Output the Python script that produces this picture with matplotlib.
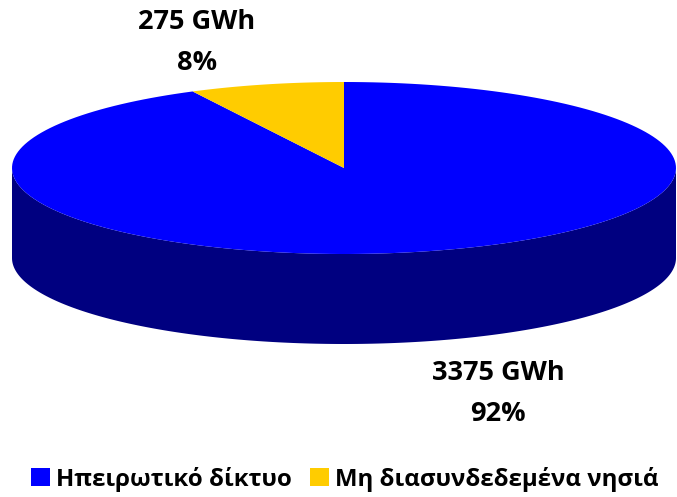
import numpy as np
import matplotlib.pyplot as plt
from matplotlib.patches import Polygon, Patch

plt.rcParams['font.family'] = ['Open Sans', 'DejaVu Sans']

names = ['Ηπειρωτικό δίκτυο', 'Μη διασυνδεδεμένα νησιά']
values = [3375, 275]
colors = ['#0000FF', '#FFCC00']
side_colors = ['#000080', '#806600']
label_pos = [(498, 373), (197, 22)]  # pixel position of the first text line

W, H = 677, 497
fig = plt.figure(figsize=(W / 100, H / 100), dpi=100)
ax = fig.add_axes([0, 0, 1, 1])
ax.set_xlim(0, W)
ax.set_ylim(H, 0)
ax.axis('off')

# ellipse geometry of the 3d pie (pixels)
cx, cy, rx, ry, depth = 344, 168, 332, 86, 90


def arc(t0, t1, dy=0, n=200):
    t = np.radians(np.linspace(t0, t1, n))
    return np.column_stack([cx + rx * np.cos(t), cy - ry * np.sin(t) + dy])


fractions = np.array(values) / sum(values)
start = 90.0
wedges = []
for frac in fractions:
    end = start - 360 * frac  # clockwise
    wedges.append((end, start))
    start = end

# side walls (only the front half is visible)
for (lo, hi), sc in zip(wedges, side_colors):
    for k in range(-2, 2):
        a = max(lo, 180 + 360 * k)
        b = min(hi, 360 + 360 * k)
        if b > a:
            top = arc(a, b)
            bot = arc(b, a, dy=depth)
            ax.add_patch(Polygon(np.vstack([top, bot]), closed=True,
                                 facecolor=sc, edgecolor='none'))

# top faces
for (lo, hi), c in zip(wedges, colors):
    pts = np.vstack([[cx, cy], arc(lo, hi)])
    ax.add_patch(Polygon(pts, closed=True, facecolor=c, edgecolor='none'))

# data labels
for v, frac, (lx, ly) in zip(values, fractions, label_pos):
    ax.text(lx, ly, f'{v} GWh', ha='center', va='center',
            fontsize=19.5, fontweight='bold')
    ax.text(lx, ly + 41, f'{frac * 100:.0f}%', ha='center', va='center',
            fontsize=19.5, fontweight='bold')

handles = [Patch(facecolor=c, edgecolor='none') for c in colors]
fig.legend(handles, names, loc='center', bbox_to_anchor=(345 / W, 1 - 479 / H),
           ncol=2, frameon=False, handlelength=0.8, handleheight=0.8,
           handletextpad=0.25, columnspacing=0.75, borderaxespad=0,
           prop={'size': 17.3, 'weight': 'bold'})

fig.savefig('out.png', dpi=100)
